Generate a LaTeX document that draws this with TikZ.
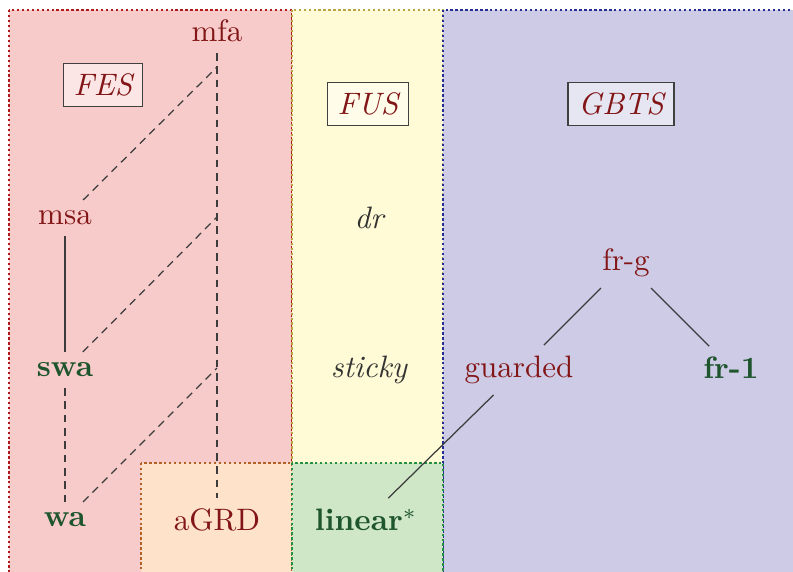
\documentclass[tikz,border=0pt]{standalone}
\usetikzlibrary{calc}
\definecolor{fesfill}{RGB}{248,203,203}
\definecolor{fusfill}{RGB}{255,251,214}
\definecolor{gbtsfill}{RGB}{206,203,230}
\definecolor{agrdfill}{RGB}{254,227,202}
\definecolor{linfill}{RGB}{207,230,199}
\definecolor{fesdraw}{RGB}{175,25,25}
\definecolor{fusdraw}{RGB}{185,165,70}
\definecolor{gbtsdraw}{RGB}{35,45,145}
\definecolor{agrddraw}{RGB}{180,95,35}
\definecolor{lindraw}{RGB}{35,145,65}
\definecolor{txtred}{RGB}{130,22,22}
\definecolor{txtgreen}{RGB}{30,85,45}
\definecolor{lncol}{RGB}{60,60,60}
\tikzset{
  region/.style={line width=0.75pt, dash pattern=on 0.75pt off 0.85pt},
  cls/.style={text=txtred},
  goodcls/.style={text=txtgreen, font=\bfseries},
  plain/.style={text=black!80, font=\itshape},
  famlabel/.style={draw=black!75, fill=white, fill opacity=0.5, text opacity=1, text=txtred, font=\itshape},
  solidedge/.style={draw=lncol, line width=0.4pt},
  dashededge/.style={draw=lncol, line width=0.4pt, dash pattern=on 2.5pt off 1.8pt},
}
\begin{document}
\begin{tikzpicture}[x=0.3226pt, y=-0.3226pt]
\useasboundingbox (0,0) rectangle (793,572);
\clip (0,0) rectangle (793,572);
% regions
\path[region, fill=fesfill, draw=fesdraw] (9,10) rectangle (292,600);
\path[region, fill=fusfill, draw=fusdraw] (292,10) rectangle (443,600);
\path[region, fill=gbtsfill, draw=gbtsdraw] (443,10) rectangle (830,600);
\path[region, fill=agrdfill, draw=agrddraw] (141,463) rectangle (292,600);
\path[region, fill=linfill, draw=lindraw] (292,463) rectangle (443,600);
% family labels
\node[famlabel] (fes) at (103,85) {FES};
\node[famlabel] (fus) at (368,104) {FUS};
\node[famlabel] (gbts) at (621,104) {GBTS};
% classes
\node[cls] (mfa) at (217,31) {mfa};
\node[cls] (msa) at (65,218) {msa};
\node[goodcls] (swa) at (65,370) {swa};
\node[goodcls] (wa) at (65,520) {wa};
\node[cls] (agrd) at (217,520) {aGRD};
\node[plain] (dr) at (369,218) {dr};
\node[plain] (sticky) at (369,370) {sticky};
\node[goodcls] (linear) at (366,520) {linear$^*$};
\node[cls] (frg) at (626,263) {fr-g};
\node[cls] (guarded) at (519,370) {guarded};
\node[goodcls] (fr1) at (731,368) {fr-1};
% helper coordinates
\coordinate (c1) at (217,67);
\coordinate (c2) at (217,217);
\coordinate (c3) at (217,368);
% connectors
\draw[solidedge] (msa) -- (swa);
\draw[dashededge] (swa) -- (wa);
\draw[dashededge] (mfa) -- (agrd);
\draw[dashededge] (msa) -- (c1);
\draw[dashededge] (swa) -- (c2);
\draw[dashededge] (wa) -- (c3);
\draw[solidedge] (frg) -- (guarded);
\draw[solidedge] (frg) -- (fr1);
\draw[solidedge] (guarded) -- (linear);
\end{tikzpicture}
\end{document}
